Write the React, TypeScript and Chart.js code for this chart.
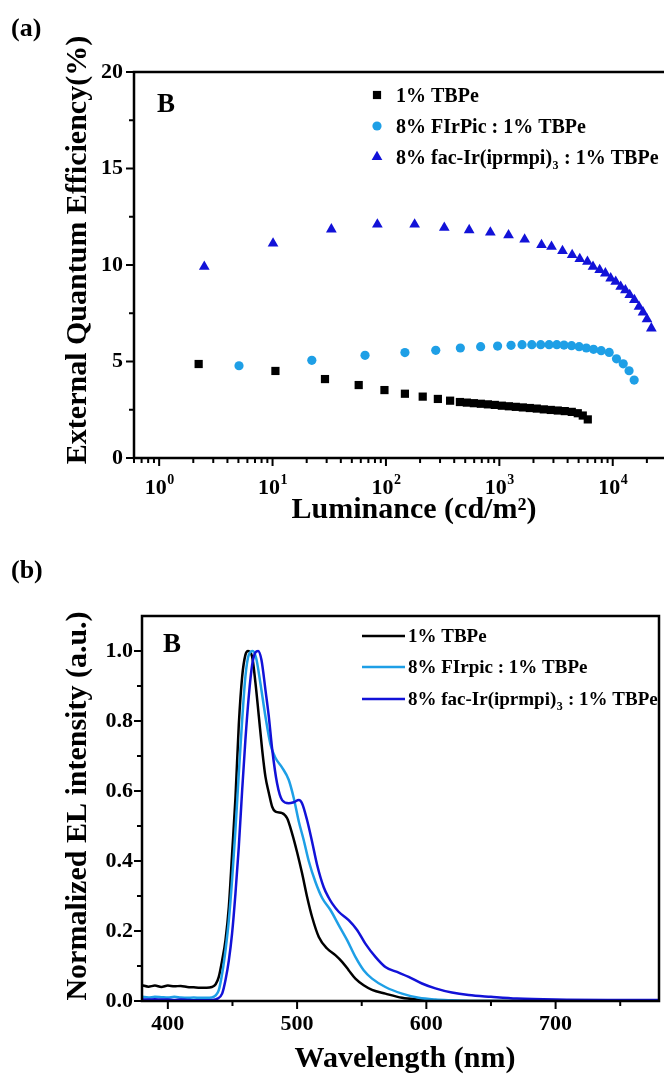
import React, { useEffect, useRef } from 'react';
import { Chart, registerables } from 'chart.js';

Chart.register(...registerables);

const FONT = '"Liberation Serif", "Times New Roman", Times, serif';
const BLACK = '#000000';
const LIGHT = '#1E9FE6';
const BLUE = '#1212D8';

// ---------- (a) EQE vs luminance ----------
const labelsA = ['1% TBPe', '8% FIrPic : 1% TBPe', '8% fac-Ir(iprmpi)₃ : 1% TBPe'];

const tbpeLum = [2.23, 10.6, 29, 57.5, 97, 147, 211, 287, 368, 449, 517, 596, 687, 792, 912, 1052, 1213, 1397, 1611, 1857, 2139, 2466, 2843, 3276, 3776, 4353, 4917, 5441, 6025];
const tbpeEqe = [4.87, 4.51, 4.09, 3.78, 3.52, 3.33, 3.18, 3.06, 2.97, 2.9, 2.87, 2.84, 2.81, 2.78, 2.75, 2.71, 2.68, 2.65, 2.62, 2.59, 2.56, 2.52, 2.49, 2.46, 2.43, 2.39, 2.32, 2.2, 2.0];

const firpicLum = [5.06, 22.2, 65.4, 147, 275, 453, 684, 965, 1268, 1586, 1933, 2316, 2747, 3212, 3717, 4335, 5057, 5852, 6770, 7910, 9310, 10790, 12370, 13930, 15450];
const firpicEqe = [4.78, 5.06, 5.32, 5.46, 5.58, 5.7, 5.77, 5.8, 5.84, 5.87, 5.87, 5.87, 5.87, 5.87, 5.85, 5.82, 5.77, 5.7, 5.63, 5.56, 5.47, 5.14, 4.88, 4.52, 4.04];

const irLum = [2.5, 10.1, 33, 84, 179, 327, 542, 833, 1205, 1671, 2355, 2884, 3605, 4385, 5120, 5980, 6700, 7670, 8610, 9590, 10620, 11750, 12930, 14120, 15520, 17050, 18490, 20050, 21900];
const irEqe = [9.91, 11.12, 11.85, 12.1, 12.1, 11.93, 11.81, 11.69, 11.55, 11.33, 11.04, 10.95, 10.73, 10.52, 10.31, 10.17, 9.91, 9.74, 9.57, 9.31, 9.14, 8.88, 8.7, 8.45, 8.19, 7.84, 7.55, 7.19, 6.72];

const eqeTicks = [0, 5, 10, 15, 20];
const eqeMinorTicks = [2.5, 7.5, 12.5, 17.5];
const lumDecades = [0, 1, 2, 3, 4];

// ---------- (b) EL spectra ----------
const labelsB = ['1% TBPe', '8% FIrpic : 1% TBPe', '8% fac-Ir(iprmpi)₃ : 1% TBPe'];

const tbpeWl = [380, 385, 390, 395, 400, 405, 410, 415, 420, 425, 430, 434, 437, 439.4, 442, 444.6, 447.2, 449.7, 452.3, 454.9, 457.5, 460, 462.1, 465.2, 467.8, 470.4, 473, 475.5, 478.1, 480.7, 483.3, 488.4, 492.3, 496.1, 500, 503.9, 507.7, 511.6, 516.8, 523.2, 529.6, 534.8, 539.9, 545.1, 551.5, 558, 568.3, 581.2, 594.1, 607, 620, 650, 700, 780];
const tbpeEl = [0.045, 0.041, 0.044, 0.04, 0.044, 0.042, 0.043, 0.04, 0.039, 0.038, 0.038, 0.04, 0.048, 0.069, 0.116, 0.174, 0.27, 0.42, 0.58, 0.79, 0.927, 0.989, 1.0, 0.984, 0.908, 0.813, 0.717, 0.641, 0.595, 0.555, 0.541, 0.537, 0.522, 0.479, 0.425, 0.364, 0.298, 0.24, 0.183, 0.15, 0.131, 0.112, 0.088, 0.064, 0.045, 0.032, 0.021, 0.009, 0.004, 0.001, 0, 0, 0, 0];

const firpicWl = [380, 385, 390, 395, 400, 405, 410, 415, 420, 425, 430, 434, 437, 439.4, 442, 444.6, 447.2, 449.7, 452.3, 454.9, 457.5, 460, 462.6, 465.7, 468.3, 471.6, 475.5, 479.4, 483.2, 488.4, 493.5, 497.4, 501.3, 505.1, 509, 514.2, 519.3, 525.8, 532.2, 538.7, 545.1, 551.5, 558, 568.3, 581.2, 594.1, 607, 620, 640, 700, 780];
const firpicEl = [0.012, 0.01, 0.012, 0.011, 0.01, 0.012, 0.01, 0.009, 0.01, 0.009, 0.009, 0.01, 0.016, 0.031, 0.078, 0.145, 0.231, 0.346, 0.489, 0.65, 0.803, 0.927, 0.989, 1.0, 0.98, 0.908, 0.813, 0.733, 0.695, 0.667, 0.632, 0.58, 0.513, 0.46, 0.4, 0.34, 0.295, 0.26, 0.217, 0.174, 0.126, 0.088, 0.064, 0.04, 0.021, 0.009, 0.004, 0.002, 0, 0, 0];

const irWl = [380, 385, 390, 395, 400, 405, 410, 415, 420, 425, 430, 435, 438, 442, 444.6, 447.2, 449.7, 452.3, 454.9, 457.5, 460, 462.6, 465.2, 467.8, 469.8, 472.4, 475.5, 478.1, 480.7, 484.5, 488.4, 493.5, 497.4, 501.3, 503.8, 507.7, 511.6, 515.4, 520.6, 524.5, 527.1, 532.2, 539.9, 546.4, 552.8, 560.6, 568.3, 577.3, 586.3, 596.6, 607, 619.8, 632.7, 650, 670, 700, 740, 780];
const irEl = [0.005, 0.004, 0.005, 0.004, 0.004, 0.003, 0.004, 0.003, 0.002, 0.002, 0.002, 0.003, 0.006, 0.021, 0.06, 0.116, 0.193, 0.307, 0.441, 0.603, 0.746, 0.87, 0.96, 0.996, 1.0, 0.975, 0.889, 0.813, 0.72, 0.622, 0.574, 0.565, 0.568, 0.574, 0.565, 0.517, 0.455, 0.39, 0.325, 0.295, 0.279, 0.255, 0.231, 0.203, 0.164, 0.126, 0.097, 0.083, 0.069, 0.05, 0.036, 0.024, 0.017, 0.012, 0.007, 0.004, 0.003, 0.003];

const wlTicks = [400, 500, 600, 700];
const wlMinorTicks = [450, 550, 650, 750];
const elTicks = [0, 0.2, 0.4, 0.6, 0.8, 1.0];
const elMinorTicks = [0.1, 0.3, 0.5, 0.7, 0.9];

const pts = (xs: number[], ys: number[]) => xs.map((x, i) => ({ x, y: ys[i] }));
const bold = (size: number) => `bold ${size}px ${FONT}`;

function drawRich(ctx: CanvasRenderingContext2D, text: string, x: number, y: number, size: number) {
  const parts = text.split('₃');
  let cx = x;
  parts.forEach((p, i) => {
    ctx.font = bold(size);
    ctx.fillText(p, cx, y);
    cx += ctx.measureText(p).width;
    if (i < parts.length - 1) {
      ctx.font = bold(Math.round(size * 0.62));
      ctx.fillText('3', cx + 0.5, y + size * 0.25);
      cx += ctx.measureText('3').width + 1;
    }
  });
}

function drawMarker(ctx: CanvasRenderingContext2D, style: string, x: number, y: number, r: number, color: string) {
  ctx.fillStyle = color;
  ctx.beginPath();
  if (style === 'rect') {
    const s = r * Math.SQRT1_2;
    ctx.rect(x - s, y - s, 2 * s, 2 * s);
  } else if (style === 'triangle') {
    ctx.moveTo(x, y - r);
    ctx.lineTo(x + r * 0.866, y + r * 0.5);
    ctx.lineTo(x - r * 0.866, y + r * 0.5);
    ctx.closePath();
  } else {
    ctx.arc(x, y, r, 0, Math.PI * 2);
  }
  ctx.fill();
}

function vTitle(ctx: CanvasRenderingContext2D, text: string, x: number, y: number, size: number) {
  ctx.save();
  ctx.translate(x, y);
  ctx.rotate(-Math.PI / 2);
  ctx.font = bold(size);
  ctx.textAlign = 'center';
  ctx.textBaseline = 'alphabetic';
  ctx.fillText(text, 0, 0);
  ctx.restore();
}

const decorA = {
  id: 'decorA',
  afterDraw(chart: any) {
    const { ctx, chartArea: a, scales } = chart;
    const xs = scales.x;
    const ys = scales.y;
    ctx.save();
    ctx.strokeStyle = '#000';
    ctx.lineWidth = 2.5;
    ctx.strokeRect(a.left, a.top, a.right - a.left, a.bottom - a.top);
    ctx.lineWidth = 2;
    ctx.beginPath();
    eqeTicks.forEach((v) => { const p = ys.getPixelForValue(v); ctx.moveTo(a.left, p); ctx.lineTo(a.left - 8, p); });
    eqeMinorTicks.forEach((v) => { const p = ys.getPixelForValue(v); ctx.moveTo(a.left, p); ctx.lineTo(a.left - 5, p); });
    for (let d = -1; d <= 5; d++) {
      for (let k = 1; k <= 9; k++) {
        const v = k * Math.pow(10, d);
        if (v < xs.min || v > xs.max) continue;
        const p = xs.getPixelForValue(v);
        ctx.moveTo(p, a.bottom);
        ctx.lineTo(p, a.bottom + (k === 1 ? 8 : 5));
      }
    }
    ctx.stroke();

    ctx.fillStyle = '#000';
    ctx.textBaseline = 'alphabetic';
    ctx.textAlign = 'left';
    lumDecades.forEach((d) => {
      const p = xs.getPixelForValue(Math.pow(10, d));
      ctx.font = bold(22);
      const w1 = ctx.measureText('10').width;
      ctx.font = bold(14);
      const w2 = ctx.measureText(String(d)).width;
      const start = p - (w1 + w2) / 2;
      ctx.font = bold(22);
      ctx.fillText('10', start, a.bottom + 36);
      ctx.font = bold(14);
      ctx.fillText(String(d), start + w1 + 0.5, a.bottom + 26);
    });

    ctx.font = bold(30);
    ctx.textAlign = 'center';
    ctx.fillText('Luminance (cd/m²)', 414, 518);
    vTitle(ctx, 'External Quantum Efficiency(%)', 86, 250, 30);

    ctx.textAlign = 'left';
    ctx.font = bold(26);
    ctx.fillText('(a)', 11, 36);
    ctx.font = bold(27);
    ctx.fillText('B', 157, 112);

    const rows = [95, 126, 157];
    chart.data.datasets.forEach((ds: any, i: number) => {
      drawMarker(ctx, ds.pointStyle, 377, rows[i], ds.pointRadius, ds.backgroundColor);
      ctx.fillStyle = '#000';
      drawRich(ctx, ds.label, 396, rows[i] + 6.6, 20);
    });
    ctx.restore();
  },
};

const decorB = {
  id: 'decorB',
  afterDraw(chart: any) {
    const { ctx, chartArea: a, scales } = chart;
    const xs = scales.x;
    const ys = scales.y;
    ctx.save();
    ctx.strokeStyle = '#000';
    ctx.lineWidth = 2.5;
    ctx.strokeRect(a.left, a.top, a.right - a.left, a.bottom - a.top);
    ctx.lineWidth = 2;
    ctx.beginPath();
    elTicks.forEach((v) => { const p = ys.getPixelForValue(v); ctx.moveTo(a.left, p); ctx.lineTo(a.left - 8, p); });
    elMinorTicks.forEach((v) => { const p = ys.getPixelForValue(v); ctx.moveTo(a.left, p); ctx.lineTo(a.left - 5, p); });
    wlTicks.forEach((v) => { const p = xs.getPixelForValue(v); ctx.moveTo(p, a.bottom); ctx.lineTo(p, a.bottom + 8); });
    wlMinorTicks.forEach((v) => { const p = xs.getPixelForValue(v); ctx.moveTo(p, a.bottom); ctx.lineTo(p, a.bottom + 5); });
    ctx.stroke();

    ctx.fillStyle = '#000';
    ctx.textBaseline = 'alphabetic';
    ctx.font = bold(30);
    ctx.textAlign = 'center';
    ctx.fillText('Wavelength (nm)', 405, 527);
    vTitle(ctx, 'Normalized EL intensity (a.u.)', 86, 266, 30);

    ctx.textAlign = 'left';
    ctx.font = bold(26);
    ctx.fillText('(b)', 11, 38);
    ctx.font = bold(27);
    ctx.fillText('B', 163, 112);

    const rows = [96, 127, 159];
    chart.data.datasets.forEach((ds: any, i: number) => {
      ctx.strokeStyle = ds.borderColor;
      ctx.lineWidth = 2.5;
      ctx.beginPath();
      ctx.moveTo(362, rows[i]);
      ctx.lineTo(405, rows[i]);
      ctx.stroke();
      ctx.fillStyle = '#000';
      drawRich(ctx, ds.label, 408, rows[i] + 6.3, 19);
    });
    ctx.restore();
  },
};

const tickFont = { family: FONT, size: 22, weight: 'bold' as const, lineHeight: 1 };
const noGrid = { display: false, drawTicks: false };

function ChartA() {
  const ref = useRef<HTMLCanvasElement>(null);
  useEffect(() => {
    const chart = new Chart(ref.current!, {
      type: 'scatter',
      data: {
        datasets: [
          { label: labelsA[0], data: pts(tbpeLum, tbpeEqe), pointStyle: 'rect', pointRadius: 5.8, backgroundColor: BLACK, borderColor: BLACK, pointBorderWidth: 0, order: 3 },
          { label: labelsA[1], data: pts(firpicLum, firpicEqe), pointStyle: 'circle', pointRadius: 4.6, backgroundColor: LIGHT, borderColor: LIGHT, pointBorderWidth: 0, order: 2 },
          { label: labelsA[2], data: pts(irLum, irEqe), pointStyle: 'triangle', pointRadius: 6.2, backgroundColor: BLUE, borderColor: BLUE, pointBorderWidth: 0, order: 1 },
        ] as any,
      },
      plugins: [decorA],
      options: {
        animation: false,
        responsive: false,
        devicePixelRatio: 1,
        layout: { padding: { top: 72, left: 0, right: 8, bottom: 32 } },
        plugins: { legend: { display: false }, tooltip: { enabled: false } },
        scales: {
          x: {
            type: 'logarithmic',
            min: 0.6,
            max: 50000,
            grid: noGrid,
            border: { display: false },
            ticks: { display: false },
            afterFit: (s: any) => { s.height = 50; },
          },
          y: {
            type: 'linear',
            min: 0,
            max: 20,
            grid: noGrid,
            border: { display: false },
            afterBuildTicks: (s: any) => { s.ticks = eqeTicks.map((v) => ({ value: v })); },
            ticks: { padding: 11, color: '#000', font: tickFont, callback: (v: any) => String(v) },
            afterFit: (s: any) => { s.width = 134; },
          },
        },
      } as any,
    });
    return () => chart.destroy();
  }, []);
  return <canvas ref={ref} width={700} height={540} style={{ display: 'block' }} />;
}

function ChartB() {
  const ref = useRef<HTMLCanvasElement>(null);
  useEffect(() => {
    const common = { showLine: true, pointRadius: 0, borderWidth: 2.5, cubicInterpolationMode: 'monotone', fill: false };
    const chart = new Chart(ref.current!, {
      type: 'scatter',
      data: {
        datasets: [
          { ...common, label: labelsB[0], data: pts(tbpeWl, tbpeEl), borderColor: BLACK, backgroundColor: BLACK, order: 3 },
          { ...common, label: labelsB[1], data: pts(firpicWl, firpicEl), borderColor: LIGHT, backgroundColor: LIGHT, order: 2 },
          { ...common, label: labelsB[2], data: pts(irWl, irEl), borderColor: BLUE, backgroundColor: BLUE, order: 1 },
        ] as any,
      },
      plugins: [decorB],
      options: {
        animation: false,
        responsive: false,
        devicePixelRatio: 1,
        layout: { padding: { top: 76, left: 0, right: 5, bottom: 26 } },
        plugins: { legend: { display: false }, tooltip: { enabled: false } },
        scales: {
          x: {
            type: 'linear',
            min: 380,
            max: 780,
            grid: noGrid,
            border: { display: false },
            afterBuildTicks: (s: any) => { s.ticks = wlTicks.map((v) => ({ value: v })); },
            ticks: { autoSkip: false, maxRotation: 0, padding: 12, color: '#000', font: tickFont, callback: (v: any) => String(v) },
            afterFit: (s: any) => { s.height = 50; },
          },
          y: {
            type: 'linear',
            min: 0,
            max: 1.1,
            grid: noGrid,
            border: { display: false },
            afterBuildTicks: (s: any) => { s.ticks = elTicks.map((v) => ({ value: v })); },
            ticks: { padding: 9, color: '#000', font: tickFont, callback: (v: any) => Number(v).toFixed(1) },
            afterFit: (s: any) => { s.width = 142; },
          },
        },
      } as any,
    });
    return () => chart.destroy();
  }, []);
  return <canvas ref={ref} width={664} height={537} style={{ display: 'block' }} />;
}

export default function App() {
  return (
    <div style={{ position: 'absolute', left: 0, top: 0, width: 664, height: 1077, overflow: 'hidden', background: '#fff' }}>
      <div style={{ width: 664, height: 540, overflow: 'hidden' }}>
        <ChartA />
      </div>
      <ChartB />
    </div>
  );
}
